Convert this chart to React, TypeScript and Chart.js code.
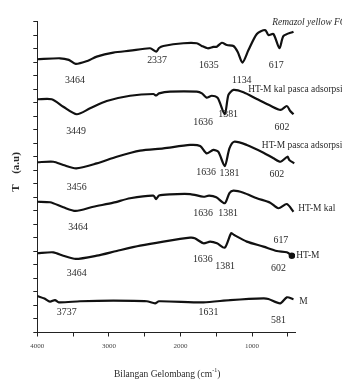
import React, { useEffect, useRef } from 'react';
import { Chart, registerables } from 'chart.js';

Chart.register(...registerables);

// Wavenumbers (cm^-1) and transmittance (offset, arbitrary units) per spectrum
const remazolWn = [4000, 3683, 3560, 3464, 3300, 3170, 2938, 2704, 2424, 2337, 2300, 2239, 1959, 1772, 1702, 1620, 1540, 1492, 1422, 1352, 1260, 1200, 1134, 1050, 933, 817, 771, 701, 617, 561, 421];
const remazolT = [20.21, 20.28, 20.16, 19.86, 20.08, 20.40, 20.70, 20.84, 21.02, 20.77, 21.04, 21.19, 21.39, 21.39, 21.19, 21.02, 21.12, 21.14, 21.43, 21.26, 21.19, 20.75, 19.96, 20.89, 22.08, 22.37, 22.0, 22.08, 21.02, 21.93, 22.25];

const kalPascaWn = [4000, 3799, 3637, 3449, 3263, 3030, 2704, 2378, 2340, 2300, 2146, 1772, 1700, 1636, 1562, 1480, 1381, 1330, 1260, 1120, 933, 747, 602, 514, 467, 421];
const kalPascaT = [17.25, 17.25, 16.70, 16.14, 16.58, 17.12, 17.51, 17.64, 17.53, 17.68, 17.81, 17.81, 17.68, 17.37, 17.51, 17.35, 16.14, 17.57, 17.94, 17.77, 17.27, 16.78, 16.46, 16.75, 16.38, 16.14];

const pascaWn = [4000, 3776, 3637, 3456, 3170, 2890, 2564, 2239, 1865, 1725, 1636, 1540, 1470, 1381, 1316, 1250, 1073, 840, 701, 602, 505, 480, 411];
const pascaT = [12.59, 12.63, 12.39, 12.14, 12.51, 13.00, 13.45, 13.62, 13.87, 13.79, 13.25, 13.50, 13.35, 12.31, 13.62, 14.11, 13.87, 13.30, 12.88, 12.63, 13.00, 12.76, 12.51];

const kalWn = [4000, 3822, 3637, 3464, 3217, 2938, 2704, 2378, 2340, 2300, 2146, 1865, 1679, 1600, 1500, 1381, 1316, 1260, 1120, 933, 747, 631, 514, 421];
const kalT = [9.67, 9.63, 9.26, 8.99, 9.30, 9.60, 9.93, 10.12, 9.87, 10.13, 10.22, 10.24, 10.04, 10.12, 10.0, 9.56, 10.30, 10.49, 10.34, 9.93, 9.60, 9.19, 9.50, 8.93];

const htmWn = [4000, 3776, 3637, 3464, 3170, 2890, 2564, 2239, 1865, 1800, 1679, 1586, 1490, 1381, 1292, 1250, 1073, 840, 654, 514, 443];
const htmT = [5.86, 5.93, 5.68, 5.44, 5.68, 6.03, 6.42, 6.72, 7.01, 6.97, 6.60, 6.72, 6.60, 6.27, 7.34, 7.21, 6.72, 6.35, 6.03, 5.93, 5.68];

const mWn = [4000, 3900, 3822, 3753, 3700, 3403, 2938, 2471, 2355, 2300, 1679, 1306, 840, 771, 607, 514, 421];
const mT = [2.70, 2.51, 2.28, 2.40, 2.23, 2.31, 2.35, 2.31, 2.16, 2.31, 2.23, 2.40, 2.53, 2.48, 2.16, 2.60, 2.46];

// Peak annotations: text, wavenumber, level
const peakText = ['3464', '2337', '1635', '1134', '617', '3449', '1636', '1381', '602', '3456', '1636', '1381', '602', '3464', '1636', '1381', '3464', '1636', '1381', '617', '602', '3737', '1631', '581'];
const peakX = [3473, 2327, 1604, 1143, 663, 3459, 1684, 1334, 583, 3449, 1642, 1316, 653, 3431, 1684, 1334, 3449, 1688, 1376, 597, 631, 3589, 1609, 631];
const peakY = [18.68, 20.16, 19.79, 18.68, 19.79, 14.90, 15.59, 16.14, 15.22, 10.72, 11.85, 11.80, 11.72, 7.83, 8.86, 8.86, 4.42, 5.44, 4.94, 6.84, 4.79, 1.54, 1.49, 0.92];

// Spectrum names
const nameText = ['Remazol yellow FG', 'HT-M kal pasca adsorpsi', 'HT-M pasca adsorpsi', 'HT-M kal', 'HT-M', 'M'];
const nameX = [719, 1054, 863, 355, 383, 341];
const nameY = [22.97, 18.01, 13.87, 9.19, 5.68, 2.28];

// X axis ticks (every 500) and which of them carry labels
const xTickValues = [4000, 3500, 3000, 2500, 2000, 1500, 1000, 500];
const xTickLabels = ['4000', '', '3000', '', '2000', '', '1000', ''];

function toPoints(wn: number[], t: number[]) {
  return wn.map((w, i) => ({ x: w, y: t[i] }));
}

function drawText(ctx: CanvasRenderingContext2D, text: string, x: number, y: number, font: string, sx: number, align: CanvasTextAlign) {
  ctx.save();
  ctx.translate(x, y);
  ctx.scale(sx, 1);
  ctx.font = font;
  ctx.textAlign = align;
  ctx.textBaseline = 'middle';
  ctx.fillText(text, 0, 0);
  ctx.restore();
}

const textPlugin = {
  id: 'ftirText',
  afterDraw(chart: any) {
    const ctx: CanvasRenderingContext2D = chart.ctx;
    const xs = chart.scales.x;
    const ys = chart.scales.y;
    ctx.save();
    ctx.fillStyle = '#2a2a2a';
    for (let i = 0; i < peakText.length; i++) {
      drawText(ctx, peakText[i], xs.getPixelForValue(peakX[i]), ys.getPixelForValue(peakY[i]), "11px 'Liberation Serif'", 0.9, 'center');
    }
    for (let i = 0; i < nameText.length; i++) {
      const font = i === 0 ? "italic 10.5px 'Liberation Serif'" : "10.5px 'Liberation Serif'";
      drawText(ctx, nameText[i], xs.getPixelForValue(nameX[i]), ys.getPixelForValue(nameY[i]), font, 0.9, 'left');
    }
    // x tick labels
    ctx.fillStyle = '#444';
    for (let i = 0; i < xTickValues.length; i++) {
      if (!xTickLabels[i]) continue;
      drawText(ctx, xTickLabels[i], xs.getPixelForValue(xTickValues[i]), chart.chartArea.bottom + 14, "7px 'Liberation Serif'", 1, 'center');
    }
    ctx.fillStyle = '#2a2a2a';
    // x-axis title with superscript
    const cx = (chart.chartArea.left + chart.chartArea.right) / 2 + 1;
    const ty = 374;
    ctx.font = "9.5px 'Liberation Serif'";
    ctx.textBaseline = 'middle';
    const p1 = 'Bilangan Gelombang (cm';
    const sup = '-1';
    const p3 = ')';
    const w1 = ctx.measureText(p1).width;
    ctx.font = "6px 'Liberation Serif'";
    const w2 = ctx.measureText(sup).width;
    ctx.font = "9.5px 'Liberation Serif'";
    const w3 = ctx.measureText(p3).width;
    const sx = cx - (w1 + w2 + w3) / 2;
    ctx.textAlign = 'left';
    ctx.fillText(p1, sx, ty);
    ctx.font = "6px 'Liberation Serif'";
    ctx.fillText(sup, sx + w1, ty - 4);
    ctx.font = "9.5px 'Liberation Serif'";
    ctx.fillText(p3, sx + w1 + w2, ty);
    // y-axis title
    ctx.save();
    ctx.translate(16, 171);
    ctx.rotate(-Math.PI / 2);
    ctx.font = "bold 11px 'Liberation Serif'";
    ctx.textAlign = 'center';
    ctx.fillText('T', -17, 0);
    ctx.fillText('(a.u)', 8, 0);
    ctx.restore();
    ctx.restore();
  },
};

export default function App() {
  const ref = useRef<HTMLCanvasElement | null>(null);
  useEffect(() => {
    if (!ref.current) return;
    const series = [
      toPoints(remazolWn, remazolT),
      toPoints(kalPascaWn, kalPascaT),
      toPoints(pascaWn, pascaT),
      toPoints(kalWn, kalT),
      toPoints(htmWn, htmT),
      toPoints(mWn, mT),
    ];
    const chart = new Chart(ref.current, {
      type: 'line',
      data: {
        datasets: series.map((d, idx) => ({
          data: d,
          borderColor: '#111',
          backgroundColor: '#111',
          borderWidth: 2.2,
          tension: 0.25,
          fill: false,
          pointRadius: (c: any) => (idx === 4 && c.dataIndex === d.length - 1 ? 2.2 : 0),
          pointHoverRadius: 0,
        })),
      },
      options: {
        animation: false,
        responsive: false,
        events: [],
        layout: { padding: { left: 0, right: 47, top: 21.5, bottom: 0 } },
        plugins: { legend: { display: false }, tooltip: { enabled: false } },
        scales: {
          x: {
            type: 'linear',
            reverse: true,
            min: 400,
            max: 4000,
            afterBuildTicks: (scale: any) => {
              scale.ticks = xTickValues.map((v) => ({ value: v }));
            },
            afterFit: (scale: any) => {
              scale.height = 47.5;
            },
            ticks: { display: false, autoSkip: false },
            grid: { drawOnChartArea: false, drawTicks: true, tickLength: 4, color: '#222' },
            border: { display: true, color: '#222', width: 1 },
          },
          y: {
            type: 'linear',
            min: 0,
            max: 23,
            afterFit: (scale: any) => {
              scale.width = 37.3;
            },
            ticks: { stepSize: 1, display: false },
            grid: { drawOnChartArea: false, drawTicks: true, tickLength: 4, color: '#222' },
            border: { display: true, color: '#222', width: 1 },
          },
        },
      },
      plugins: [textPlugin],
    } as any);
    return () => chart.destroy();
  }, []);
  return (
    <div style={{ position: 'fixed', left: 0, top: 0, width: 342, height: 380, background: '#fff' }}>
      <canvas ref={ref} width={342} height={380} style={{ display: 'block', width: 342, height: 380 }} />
    </div>
  );
}
